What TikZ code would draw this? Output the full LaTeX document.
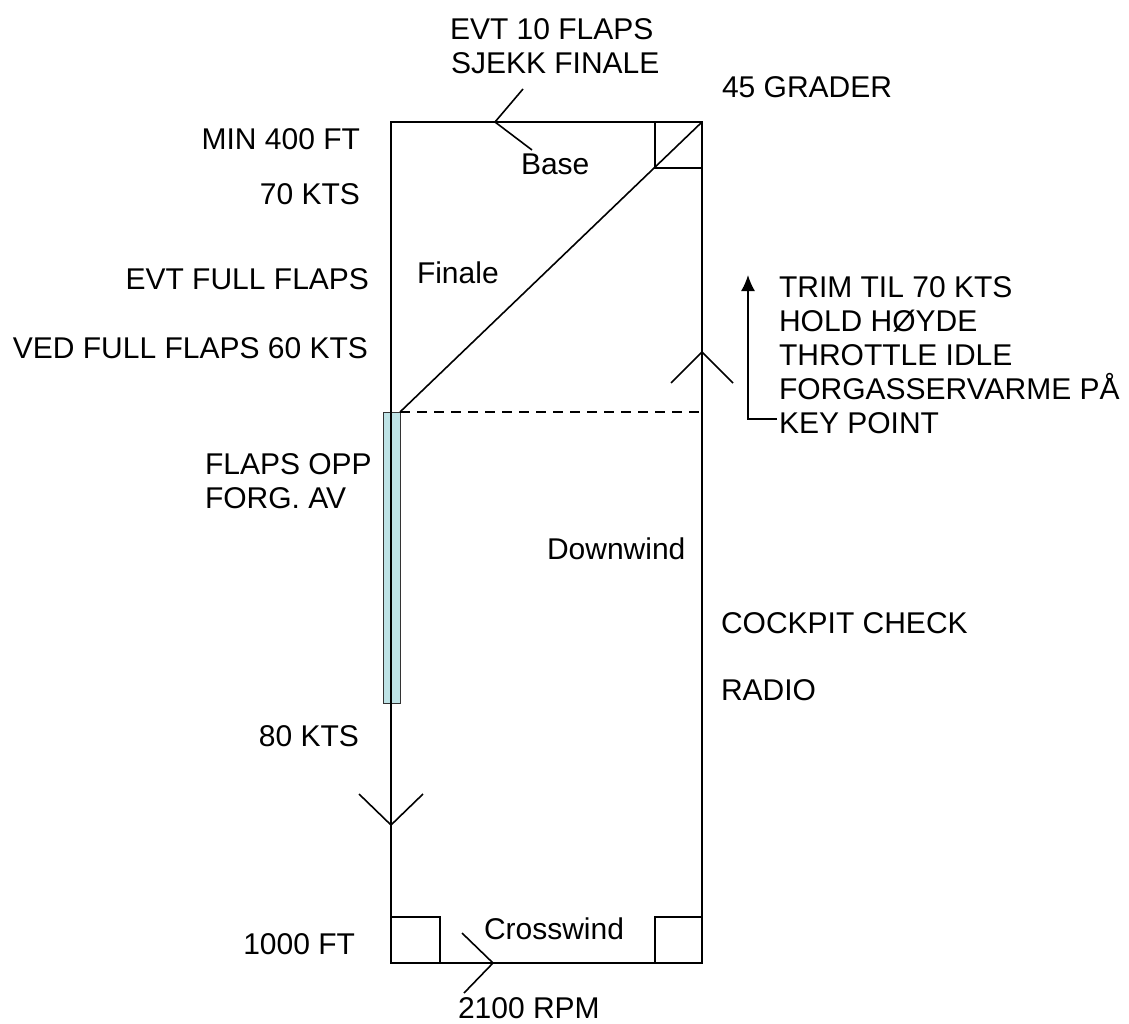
\documentclass[tikz,border=0pt]{standalone}
\usepackage{fontspec}
\setmainfont{Liberation Sans}
\usetikzlibrary{arrows.meta}
\definecolor{barcyan}{RGB}{190,227,230}
\begin{document}
\begin{tikzpicture}[x=1pt,y=-1pt,
  ln/.style={line width=1.6pt,black},
  lbl/.style={inner sep=0pt,outer sep=0pt,font=\fontsize{30}{34}\selectfont},
  lw/.style={lbl,anchor=base west},
  le/.style={lbl,anchor=base east}]
\useasboundingbox (0,0) rectangle (1129,1023);
% corners
\coordinate (TL) at (391,122);
\coordinate (TR) at (702,122);
\coordinate (BR) at (702,963);
\coordinate (BL) at (391,963);
\coordinate (KP) at (702,412);
\coordinate (FA) at (400,412);
% flaps bar
\draw[fill=barcyan,draw=black!80,line width=1pt] (383,412) rectangle (400,703);
% pattern
\draw[ln] (TL) -- (TR) -- (BR) -- (BL) -- cycle;
\draw[ln] (TR) -- (FA);
\draw[ln,dash pattern=on 10pt off 7pt] (FA) -- (KP);
% corner squares
\draw[ln] (655,122) rectangle (702,168);
\draw[ln] (391,917) rectangle (440,963);
\draw[ln] (655,917) rectangle (702,963);
% chevrons
\draw[ln] (523,89) -- (495,122) -- (532,150);
\draw[ln] (462,933) -- (493,963) -- (464,993);
\draw[ln] (359,794) -- (391,825) -- (423,794);
\draw[ln] (671,383) -- (702,352) -- (733,383);
% key point arrow
\coordinate (KPt) at (777,419);
\coordinate (KPc) at (748,419);
\coordinate (KPe) at (748,275);
\draw[ln,-{Latex[length=16pt,width=14pt]}] (KPt) -- (KPc) -- (KPe);
% labels
\node[lw] (evt) at (450,39) {EVT 10 FLAPS};
\node[lw] (sjekk) at (451,73) {SJEKK FINALE};
\node[lw] (grader) at (722,97) {45 GRADER};
\node[le] (min) at (360,149) {MIN 400 FT};
\node[le] (kts70) at (360,204) {70 KTS};
\node[le] (evtfull) at (369,289) {EVT FULL FLAPS};
\node[le] (ved) at (368,358) {VED FULL FLAPS 60 KTS};
\node[lw] (flapsopp) at (205,474) {FLAPS OPP};
\node[lw] (forg) at (205,508) {FORG. AV};
\node[le] (kts80) at (359,746) {80 KTS};
\node[le] (ft1000) at (355,954) {1000 FT};
\node[lw] (rpm) at (458,1018) {2100 RPM};
\node[lw] (base) at (521,174) {Base};
\node[lw] (finale) at (417,283) {Finale};
\node[lw] (downwind) at (547,559) {Downwind};
\node[lw] (crosswind) at (484,939) {Crosswind};
\node[lw] (cockpit) at (721,633) {COCKPIT CHECK};
\node[lw] (radio) at (721,700) {RADIO};
\node[lw] (trim) at (779,297) {TRIM TIL 70 KTS};
\node[lw] (hold) at (779,331) {HOLD HØYDE};
\node[lw] (throttle) at (779,365) {THROTTLE IDLE};
\node[lw] (forgv) at (779,399) {FORGASSERVARME PÅ};
\node[lw] (keyp) at (779,433) {KEY POINT};
\end{tikzpicture}
\end{document}
